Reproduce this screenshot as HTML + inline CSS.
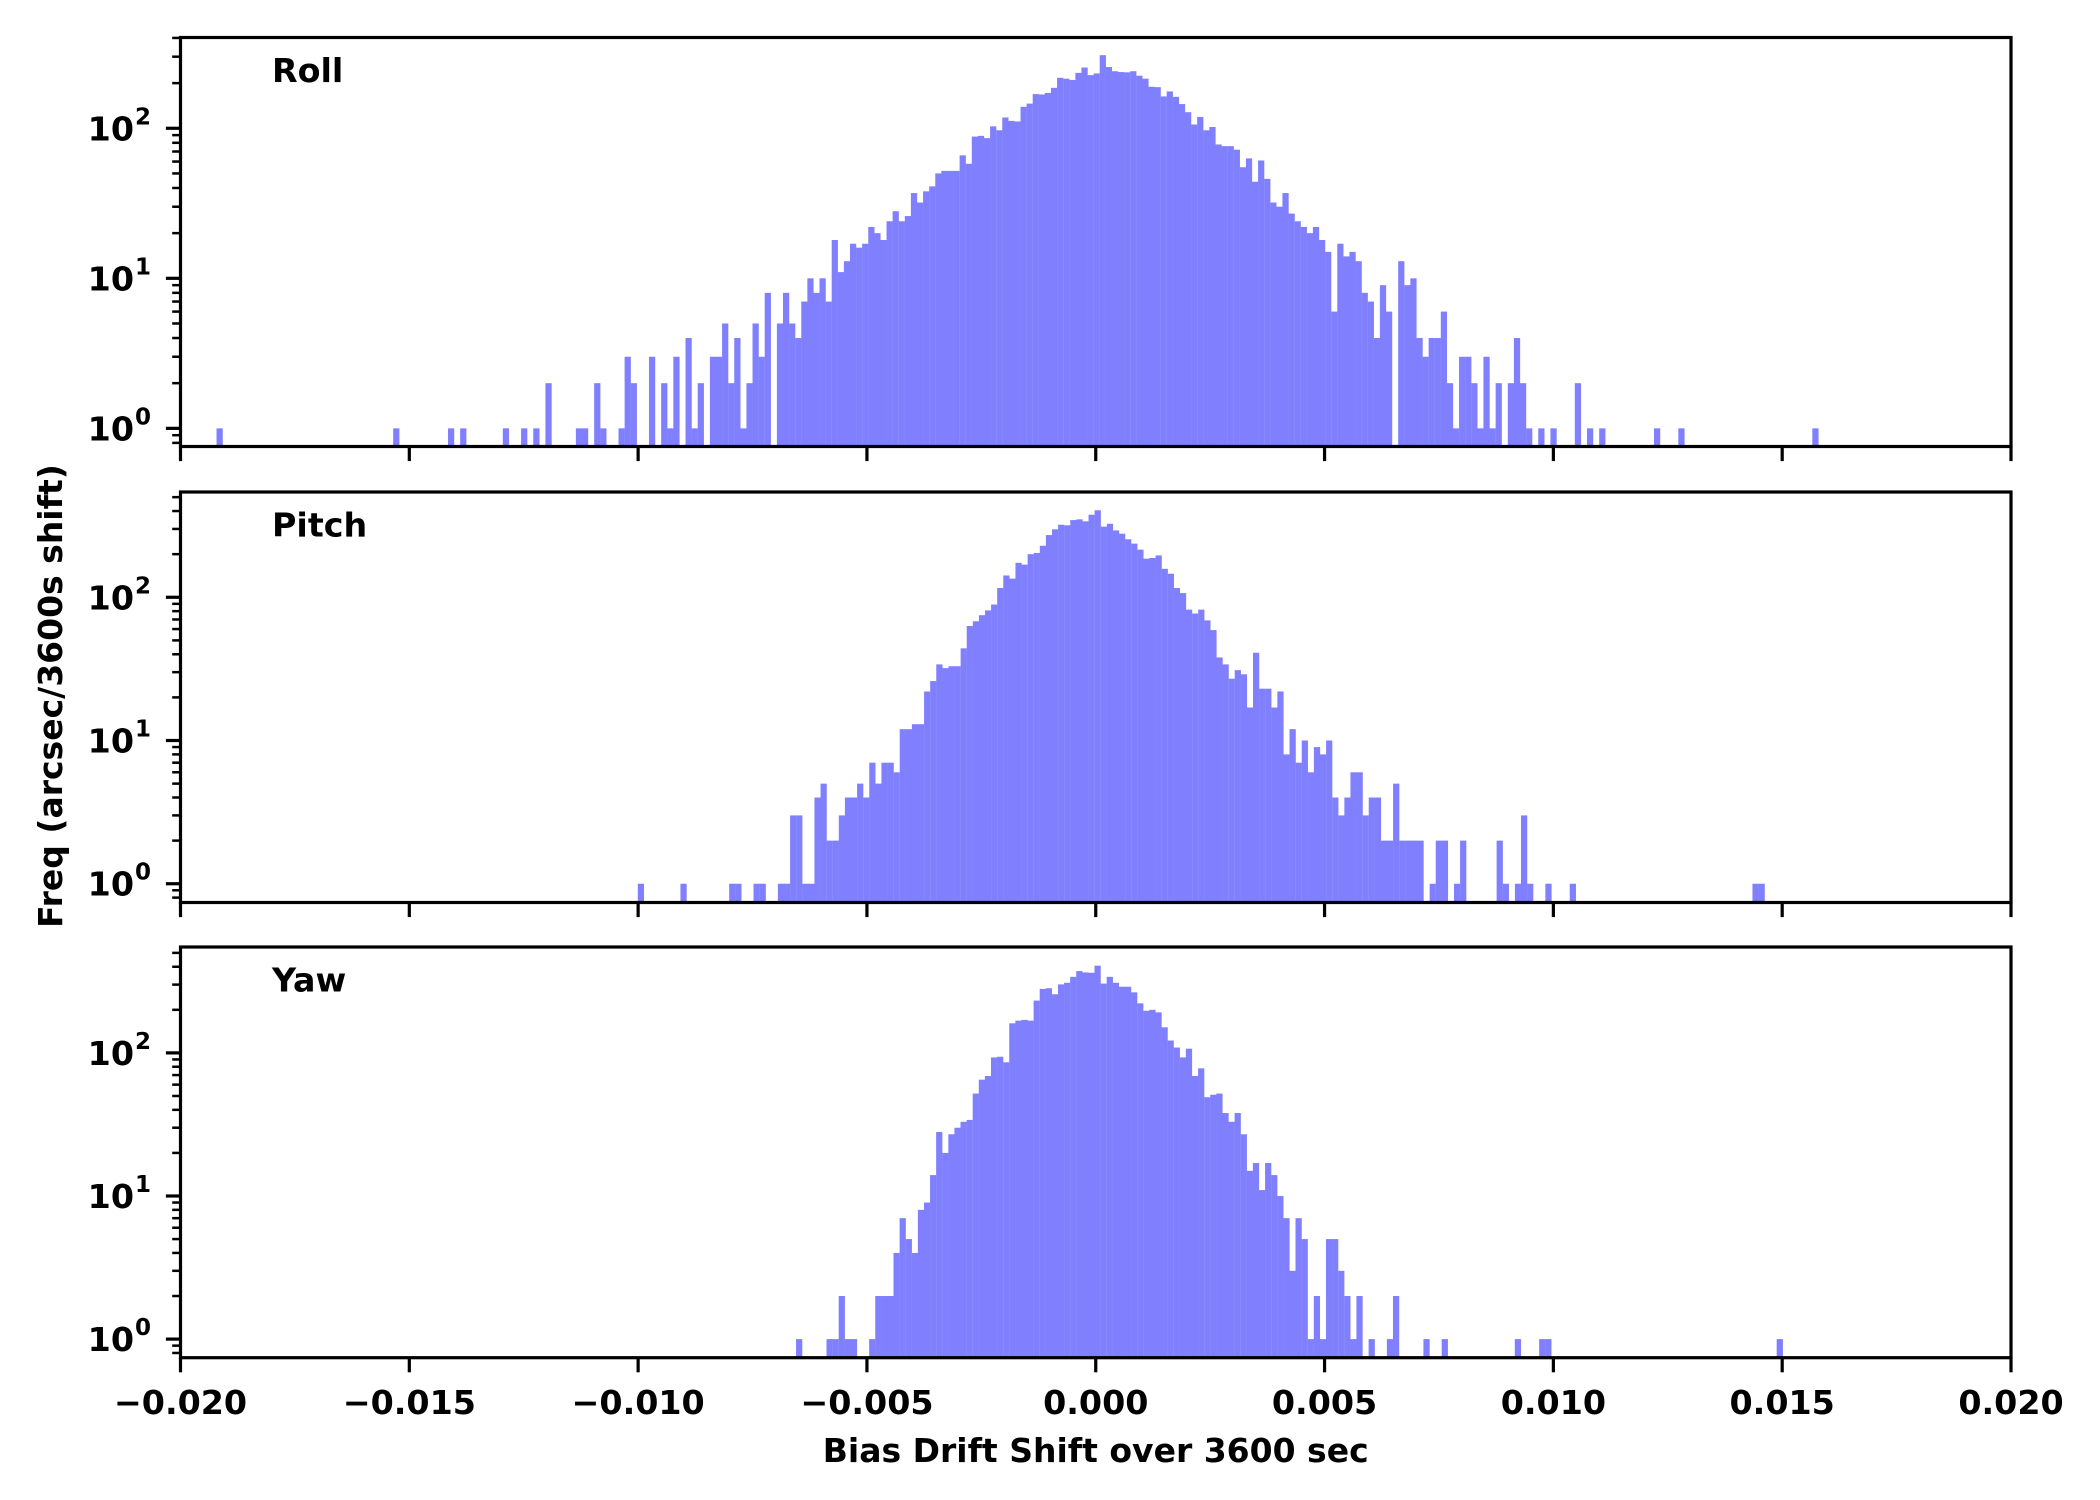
<!DOCTYPE html>
<html>
<head>
<meta charset="utf-8">
<style>
  html, body { margin: 0; padding: 0; background: #ffffff; }
  svg { display: block; }
  text { font-family: "DejaVu Sans", "Liberation Sans", sans-serif; font-weight: bold; fill: #000; }
</style>
</head>
<body>
<svg id="chart" xmlns="http://www.w3.org/2000/svg" width="2100" height="1500" viewBox="0 0 2100 1500">
  <rect x="0" y="0" width="2100" height="1500" fill="#ffffff"/>
  <g id="panels"></g>
  <text x="1095.7" y="1462" font-size="33" text-anchor="middle">Bias Drift Shift over 3600 sec</text>
  <text x="0" y="0" font-size="33" text-anchor="middle" transform="translate(62,696) rotate(-90)">Freq (arcsec/3600s shift)</text>
</svg>
<script>
// ---- data ----
const binWidth = 0.0001331;
const rollStart = -0.019213;
const pitchStart = -0.010007;
const yawStart = -0.006549;
const rollCounts = [
1,0,0,0,0,0,0,0,0,0,
0,0,0,0,0,0,0,0,0,0,
0,0,0,0,0,0,0,0,0,1,
0,0,0,0,0,0,0,0,1,0,
1,0,0,0,0,0,0,1,0,0,
1,0,1,0,2,0,0,0,0,1,
1,0,2,1,0,0,1,3,2,0,
0,3,0,2,1,3,0,4,1,2,
0,3,3,5,2,4,1,2,5,
3,8,0,5,8,5,4,7,10,8,10,7,18,11,13,17,16,17,22,20,18,24,28,24,26,37,32,38,41,50,52,52,52,66,58,88,89,86,103,97,118,112,111,139,146,169,168,172,186,217,214,210,234,254,226,232,307,256,240,237,
236,240,224,214,189,188,163,176,162,145,128,106,119,97,102,78,76,76,72,55,63,44,61,46,32,30,37,27,24,22,20,22,18,15,6,17,14,15,13,8,7,4,9,6,0,13,9,10,4,3,4,4,6,2,
1,3,3,2,1,3,1,2,0,2,
4,2,1,0,1,0,1,0,0,0,
2,0,1,0,1,0,0,0,0,0,
0,0,0,1,0,0,0,1,0,0,
0,0,0,0,0,0,0,0,0,0,
0,0,0,0,0,0,0,0,0,1
];
const pitchCounts = [
1,0,0,0,0,0,0,1,0,0,
0,0,0,0,0,1,1,0,0,1,
1,0,0,
1,1,3,3,1,1,4,5,2,2,3,4,4,5,4,7,5,7,7,6,12,12,13,13,22,26,34,32,33,33,44,63,68,75,81,89,116,142,135,174,169,200,204,229,272,298,321,318,346,350,339,377,405,311,326,
293,278,254,237,215,186,188,196,158,146,116,107,82,77,82,69,59,38,34,27,31,29,17,41,23,23,17,22,8,12,7,10,6,9,8,10,4,3,4,6,6,3,4,4,2,2,5,2,2,2,2,
0,1,2,2,0,1,2,0,0,0,0,0,2,1,0,1,3,1,0,0,1,0,0,0,1,
0,0,0,0,0,0,0,0,0,0,0,0,0,0,0,0,0,0,0,0,0,0,0,0,0,0,0,0,0,1,1
];
const yawCounts = [
1,0,0,0,0,1,1,2,1,1,0,0,1,2,2,2,4,7,5,4,8,9,14,28,20,27,30,33,34,52,65,69,93,94,86,161,168,170,168,232,280,283,257,301,309,340,373,365,363,407,
305,340,309,290,290,265,222,197,200,192,151,122,109,93,107,69,78,49,51,52,38,33,38,27,15,17,11,17,14,10,7,3,7,5,1,2,1,5,5,3,2,1,2,0,1,0,0,1,2,
0,0,0,0,1,0,0,1,0,0,0,0,0,0,0,0,0,0,0,1,0,0,0,1,1,
0,0,0,0,0,0,0,0,0,0,0,0,0,0,0,0,0,0,0,0,0,0,0,0,0,0,0,0,0,0,0,0,0,0,0,0,0,1
];
const panelNames = ["Roll", "Pitch", "Yaw"];
const xTickValues = [-0.020, -0.015, -0.010, -0.005, 0.000, 0.005, 0.010, 0.015, 0.020];
const xTickLabels = ["\u22120.020", "\u22120.015", "\u22120.010", "\u22120.005", "0.000", "0.005", "0.010", "0.015", "0.020"];
const yDecades = [0, 1, 2];

// ---- layout ----
const NS = "http://www.w3.org/2000/svg";
const AX_L = 180.5, AX_R = 2011;
const X_MIN = -0.02, X_MAX = 0.02;
const panels = [
  { name: "roll", counts: rollCounts, start: rollStart, top: 37.5, bottom: 446.5, logMin: -0.121, logMax: 2.605 },
  { name: "pitch", counts: pitchCounts, start: pitchStart, top: 492, bottom: 902.5, logMin: -0.131, logMax: 2.735 },
  { name: "yaw", counts: yawCounts, start: yawStart, top: 947, bottom: 1357.7, logMin: -0.13, logMax: 2.74 }
];
function xScale(v) { return AX_L + (v - X_MIN) / (X_MAX - X_MIN) * (AX_R - AX_L); }
function makeY(p) {
  return function (v) { return p.bottom - (Math.log10(v) - p.logMin) / (p.logMax - p.logMin) * (p.bottom - p.top); };
}
function mk(tag, attrs) {
  const e = document.createElementNS(NS, tag);
  for (const k in attrs) e.setAttribute(k, attrs[k]);
  return e;
}

const root = document.getElementById("panels");
panels.forEach(function (p, pi) {
  const y = makeY(p);
  const g = mk("g", {});
  
  
  root.appendChild(g);

  const clipId = "clip-" + p.name;
  const cp = mk("clipPath", { id: clipId });
  cp.appendChild(mk("rect", { x: AX_L, y: p.top, width: AX_R - AX_L, height: p.bottom - p.top }));
  g.appendChild(cp);

  const bars = mk("g", { "clip-path": "url(#" + clipId + ")" });
  
  
  g.appendChild(bars);
  const bw = xScale(binWidth) - xScale(0);
  p.counts.forEach(function (c, i) {
    if (c <= 0) return;
    const x0 = xScale(p.start + i * binWidth);
    const yt = y(c);
    const r = mk("rect", { x: x0.toFixed(2), y: yt.toFixed(2), width: (bw + 0.15).toFixed(2), height: (p.bottom - yt).toFixed(2), fill: "#8080ff" });
    
    
    bars.appendChild(r);
  });

  // spines
  const frame = mk("rect", { x: AX_L, y: p.top, width: AX_R - AX_L, height: p.bottom - p.top, fill: "none", stroke: "#000", "stroke-width": 3.2 });
  
  
  g.appendChild(frame);

  // x ticks
  xTickValues.forEach(function (v, k) {
    const x = xScale(v);
    const t = mk("line", { x1: x, x2: x, y1: p.bottom, y2: p.bottom + 14.6, stroke: "#000", "stroke-width": 3.2 });
    
    
    g.appendChild(t);
    if (pi === panels.length - 1) {
      const lab = mk("text", { x: x, y: 1414, "font-size": 33.3, "text-anchor": "middle" });
      lab.textContent = xTickLabels[k];
      
      
      g.appendChild(lab);
    }
  });

  // y major ticks + labels
  yDecades.forEach(function (d) {
    const yy = y(Math.pow(10, d));
    const t = mk("line", { x1: AX_L - 14.6, x2: AX_L, y1: yy, y2: yy, stroke: "#000", "stroke-width": 3.2 });
    
    
    g.appendChild(t);
    const lab = mk("text", { x: 134, y: yy + 12, "font-size": 33.3, "text-anchor": "end" });
    lab.textContent = "10";
    
    
    g.appendChild(lab);
    const sup = mk("text", { x: 135, y: yy - 4, "font-size": 23 });
    sup.textContent = String(d);
    
    
    g.appendChild(sup);
  });
  // y minor ticks
  for (let d = -1; d <= 2; d++) {
    for (let k = 2; k <= 9; k++) {
      const lv = Math.log10(k) + d;
      if (lv < p.logMin || lv > p.logMax) continue;
      const yy = y(Math.pow(10, lv));
      const t = mk("line", { x1: AX_L - 8.3, x2: AX_L, y1: yy, y2: yy, stroke: "#000", "stroke-width": 2.5 });
      
      
      g.appendChild(t);
    }
  }

  // panel title
  const title = mk("text", { x: 272, y: p.top + 44.5, "font-size": 33.3 });
  title.textContent = panelNames[pi];
  
  
  g.appendChild(title);
});
</script>
</body>
</html>
